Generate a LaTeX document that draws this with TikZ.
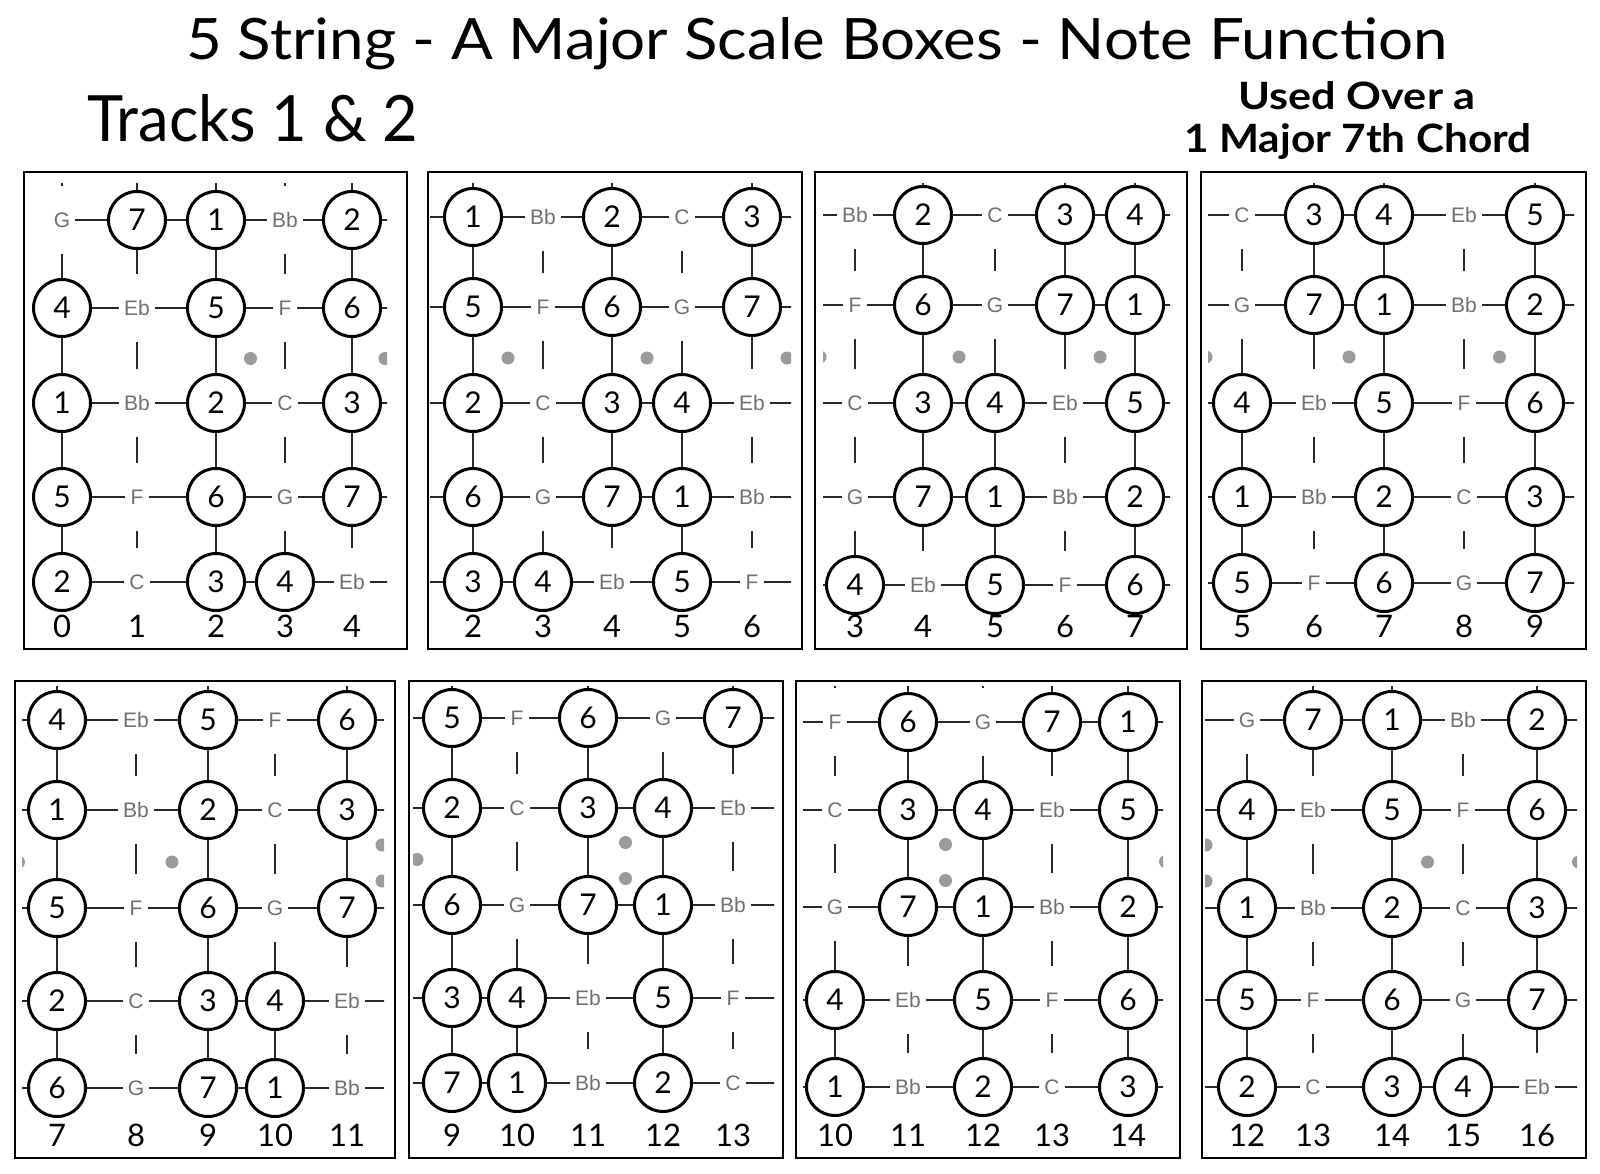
\documentclass[tikz,border=0pt]{standalone}
\usepackage{fontspec}
\setmainfont{Lato}
\newfontfamily\notefont{Liberation Sans}
\definecolor{lettergray}{RGB}{112,112,112}
\definecolor{strcol}{RGB}{40,40,40}
\definecolor{dotgray}{RGB}{155,155,155}
\newcommand\NoteLab[1]{\ifcase#1 1\or Bb\or 2\or C\or 3\or 4\or Eb\or 5\or F\or 6\or G\or 7\fi}
\newcommand\NoteIsDeg[1]{\ifcase#1 1\or 0\or 1\or 0\or 1\or 1\or 0\or 1\or 0\or 1\or 0\or 1\fi}
\newcommand\DotType[1]{\ifcase#1 0\or 0\or 0\or 1\or 0\or 1\or 0\or 1\or 0\or 1\or 0\or 0\or 2\or 0\or 0\or 1\or 0\or 1\else 0\fi}
\tikzset{
 deg/.style={circle, draw=black, line width=3pt, fill=white, minimum size=57pt, inner sep=0pt, font=\fontsize{30}{30}\selectfont},
 notelet/.style={rectangle, inner xsep=5pt, inner ysep=0pt, minimum height=68pt, text=lettergray, font=\notefont\fontsize{21}{21}\selectfont},
 strseg/.style={draw=strcol, line width=2.3pt},
 boxframe/.style={draw=black, line width=2.8pt},
 fretnum/.style={anchor=base, font=\fontsize{31}{31}\selectfont},
 inlay/.style={fill=dotgray},
}
% #1 id, #2 first fret, #3 seven x values (fret-1 .. fret+5, offset +100), #4 five y values,
% #5-#8 clip L,T,R,B, #9 fret-number baseline
\newcommand\FretBox[9]{%
\begin{scope}
\clip (#5,#6) rectangle (#7,#8);
\pgfmathsetmacro\ya{{#4}[1]}%
\pgfmathsetmacro\yb{{#4}[2]}%
\pgfmathsetmacro\ym{(\ya+\yb)/2}%
\foreach \c in {1,...,6}{%
  \pgfmathtruncatemacro\fr{#2+\c-1}%
  \pgfmathtruncatemacro\cp{\c-1}%
  \pgfmathsetmacro\xa{{#3}[\cp]}%
  \pgfmathsetmacro\xb{{#3}[\c]}%
  \pgfmathsetmacro\xm{(\xa+\xb)/2-100}%
  \edef\dt{\DotType{\fr}}%
  \ifnum\dt=1 \fill[inlay] (\xm,\ym+3) circle (6.5pt);\fi
  \ifnum\dt=2 \fill[inlay] (\xm,\ym-14) circle (6.5pt); \fill[inlay] (\xm,\ym+22) circle (6.5pt);\fi
}
\foreach \c in {0,...,6}{%
  \pgfmathtruncatemacro\fr{#2+\c-1}%
  \ifnum\fr>-1
  \pgfmathsetmacro\X{{#3}[\c]-100}%
  \ifnum\c=0 \let\wrap\phantom \else\ifnum\c=6 \let\wrap\phantom \else \let\wrap\relax\fi\fi
  \foreach \r in {0,...,4}{%
    \pgfmathsetmacro\Y{{#4}[\r]}%
    \pgfmathtruncatemacro\op{{10,5,0,7,2}[\r]}%
    \pgfmathtruncatemacro\pc{mod(\op+\fr,12)}%
    \edef\isdeg{\NoteIsDeg{\pc}}%
    \edef\lab{\NoteLab{\pc}}%
    \ifnum\isdeg=1
      \node[deg] (n#1-\r-\c) at (\X,\Y) {\wrap{\lab}};
    \else
      \node[notelet] (n#1-\r-\c) at (\X,\Y) {\wrap{\lab}};
    \fi
  }%
  \coordinate (t#1-\c) at (\X,#6-12);
  \fi
}
\foreach \c in {0,...,6}{%
  \pgfmathtruncatemacro\fr{#2+\c-1}%
  \ifnum\fr>-1
    \draw[strseg] (n#1-0-\c) -- (t#1-\c);
    \foreach \r [evaluate=\r as \rn using int(\r+1)] in {0,...,3}{\draw[strseg] (n#1-\r-\c) -- (n#1-\rn-\c);}
    \ifnum\c<6
      \pgfmathtruncatemacro\cn{\c+1}%
      \foreach \r in {0,...,4}{\draw[strseg] (n#1-\r-\c) -- (n#1-\r-\cn);}
    \fi
  \fi
}
\end{scope}
\foreach \c in {1,...,5}{%
  \pgfmathtruncatemacro\fr{#2+\c-1}%
  \pgfmathsetmacro\X{{#3}[\c]-100}%
  \node[fretnum] (fn#1-\c) at (\X,#9) {\fr};
}
}
\begin{document}
\begin{tikzpicture}[x=1pt,y=-1pt]
\useasboundingbox (0,0) rectangle (1600,1173);
\fill[white] (0,0) rectangle (1600,1173);
% titles
\node[anchor=base, inner sep=0pt] (title) at (817,59) {\resizebox{1261pt}{42pt}{5 String - A Major Scale Boxes - Note Function}};
\node[anchor=base west, inner sep=0pt] (tracks) at (87,141) {\resizebox{331pt}{47pt}{Tracks 1 \& 2}};
\node[anchor=base, inner sep=0pt] (used) at (1357,109) {\resizebox{237pt}{28pt}{\bfseries Used Over a}};
\node[anchor=base, inner sep=0pt] (chord) at (1358,152) {\resizebox{347pt}{29pt}{\bfseries 1 Major 7th Chord}};
% box frames
\draw[boxframe] (24,172) rectangle (407,649);
\draw[boxframe] (428,172) rectangle (802,649);
\draw[boxframe] (815,172) rectangle (1187,649);
\draw[boxframe] (1201,172) rectangle (1586,649);
\draw[boxframe] (15,681) rectangle (395,1158);
\draw[boxframe] (409,681) rectangle (783,1158);
\draw[boxframe] (796,681) rectangle (1180,1158);
\draw[boxframe] (1202,681) rectangle (1586,1158);
% boxes (x values offset by +100)
\FretBox{1}{0}{100,162,237,316,385,452,518}{220,308,403,497,582}{28}{183}{387}{614}{637}
\FretBox{2}{2}{498,573,643,712,782,852,922}{217,307,403,497,582}{430}{183}{791}{614}{637}
\FretBox{3}{3}{885,955,1023,1095,1165,1235,1303}{215,305,403,497,585}{823}{183}{1170}{617}{637}
\FretBox{4}{5}{1270,1342,1414,1484,1564,1635,1705}{215,305,403,497,583}{1208}{183}{1574}{615}{637}
\FretBox{5}{7}{80,157,236,308,375,447,517}{720,810,908,1001,1088}{22}{686}{384}{1120}{1146}
\FretBox{6}{9}{482,552,617,688,763,833,912}{718,808,905,998,1083}{413}{686}{774}{1115}{1146}
\FretBox{7}{10}{862,935,1008,1083,1152,1228,1303}{722,810,907,1000,1087}{803}{686}{1163}{1119}{1146}
\FretBox{8}{12}{1265,1347,1413,1492,1563,1637,1720}{720,810,908,1000,1087}{1205}{686}{1577}{1119}{1146}
\end{tikzpicture}
\end{document}
